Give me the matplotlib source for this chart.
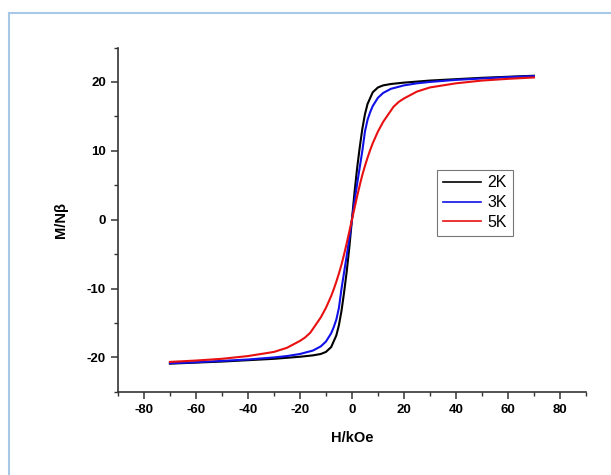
''' M vs H magnetisation curves at 2K, 3K and 5K
'''

import matplotlib
matplotlib.use('Agg')
import matplotlib.pyplot as plt  # noqa E402
from matplotlib.lines import Line2D  # noqa E402
from matplotlib.ticker import MultipleLocator  # noqa E402

# field values (kOe) and magnetisation (M/N beta)
h_2k = [-70, -60, -50, -40, -30, -20, -15, -12, -10, -8, -6, -5, -4, -3, -2, -1,
        0, 1, 2, 3, 4, 5, 6, 8, 10, 12, 15, 20, 30, 40, 50, 60, 70]
m_2k = [-20.9, -20.75, -20.6, -20.4, -20.2, -19.9, -19.7, -19.5, -19.2, -18.5,
        -16.8, -15.3, -13.2, -10.5, -7.5, -4.0,
        0.0, 4.0, 7.5, 10.5, 13.2, 15.3, 16.8, 18.5, 19.2, 19.5, 19.7, 19.9,
        20.2, 20.4, 20.6, 20.75, 20.9]

h_3k = [-70, -60, -50, -40, -30, -25, -20, -15, -12, -10, -8, -7, -6, -5, -4,
        -3, -2, -1, 0, 1, 2, 3, 4, 5, 6, 7, 8, 10, 12, 15, 20, 25, 30, 40, 50,
        60, 70]
m_3k = [-20.85, -20.7, -20.5, -20.3, -20.0, -19.8, -19.5, -19.0, -18.4, -17.7,
        -16.5, -15.6, -14.5, -12.8, -10.0, -7.6, -5.2, -2.7,
        0.0, 2.7, 5.2, 7.6, 10.0, 12.8, 14.5, 15.6, 16.5, 17.7, 18.4, 19.0,
        19.5, 19.8, 20.0, 20.3, 20.5, 20.7, 20.85]

h_5k = [-70, -60, -50, -40, -30, -25, -20, -18, -16, -14, -12, -10, -8, -7, -6,
        -5, -4, -3, -2, -1, 0, 1, 2, 3, 4, 5, 6, 7, 8, 10, 12, 14, 16, 18, 20,
        25, 30, 40, 50, 60, 70]
m_5k = [-20.65, -20.45, -20.2, -19.8, -19.2, -18.6, -17.6, -17.1, -16.4, -15.3,
        -14.2, -12.8, -11.1, -10.1, -9.0, -7.8, -6.5, -5.0, -3.4, -1.7,
        0.0, 1.7, 3.4, 5.0, 6.5, 7.8, 9.0, 10.1, 11.1, 12.8, 14.2, 15.3, 16.4,
        17.1, 17.6, 18.6, 19.2, 19.8, 20.2, 20.45, 20.65]

labels = ["2K", "3K", "5K"]
colors = ["black", "#1010e8", "#e81010"]

plt.rcParams['font.family'] = ['Liberation Sans', 'DejaVu Sans']
plt.rcParams['axes.unicode_minus'] = False

fig = plt.figure(figsize=(6.11, 4.75), dpi=100)
ax = fig.add_axes([0.193, 0.175, 0.766, 0.725])

for h, m, lab, col in zip([h_2k, h_3k, h_5k], [m_2k, m_3k, m_5k],
                          labels, colors):
    ax.plot(h, m, color=col, lw=1.5, label=lab)

ax.set_xlim(-90, 90)
ax.set_ylim(-25, 25)
ax.xaxis.set_major_locator(MultipleLocator(20))
ax.xaxis.set_minor_locator(MultipleLocator(10))
ax.yaxis.set_major_locator(MultipleLocator(10))
ax.yaxis.set_minor_locator(MultipleLocator(5))

for side in ['top', 'right']:
    ax.spines[side].set_visible(False)
for side in ['left', 'bottom']:
    ax.spines[side].set_color('#333333')
    ax.spines[side].set_linewidth(1.2)

ax.tick_params(which='major', direction='out', length=5, width=1.1,
               color='#333333', labelsize=9.5)
ax.tick_params(which='minor', direction='out', length=3, width=1.0,
               color='#333333')
for t in ax.get_xticklabels() + ax.get_yticklabels():
    t.set_fontweight('bold')

ax.set_xlabel("H/kOe", fontsize=10.5, fontweight='bold', labelpad=11)
ax.set_ylabel("M/Nβ", fontsize=10.5, fontweight='bold', labelpad=14)

leg = ax.legend(loc='upper left', bbox_to_anchor=(0.682, 0.645),
                borderaxespad=0, fontsize=11.5, frameon=True, fancybox=False,
                handlelength=2.4, handletextpad=0.4, borderpad=0.35,
                labelspacing=0.3)
leg.get_frame().set_edgecolor('#555555')
leg.get_frame().set_linewidth(0.8)
for line in leg.get_lines():
    line.set_linewidth(1.2)

# light blue frame at top and left of the picture
fig.add_artist(Line2D([9 / 611, 1], [1 - 13 / 475, 1 - 13 / 475],
                      color='#a8c8e8', lw=1.5, transform=fig.transFigure))
fig.add_artist(Line2D([9 / 611, 9 / 611], [0, 1 - 13 / 475],
                      color='#a8c8e8', lw=1.5, transform=fig.transFigure))

fig.savefig("out.png", dpi=100)
plt.close(fig)
